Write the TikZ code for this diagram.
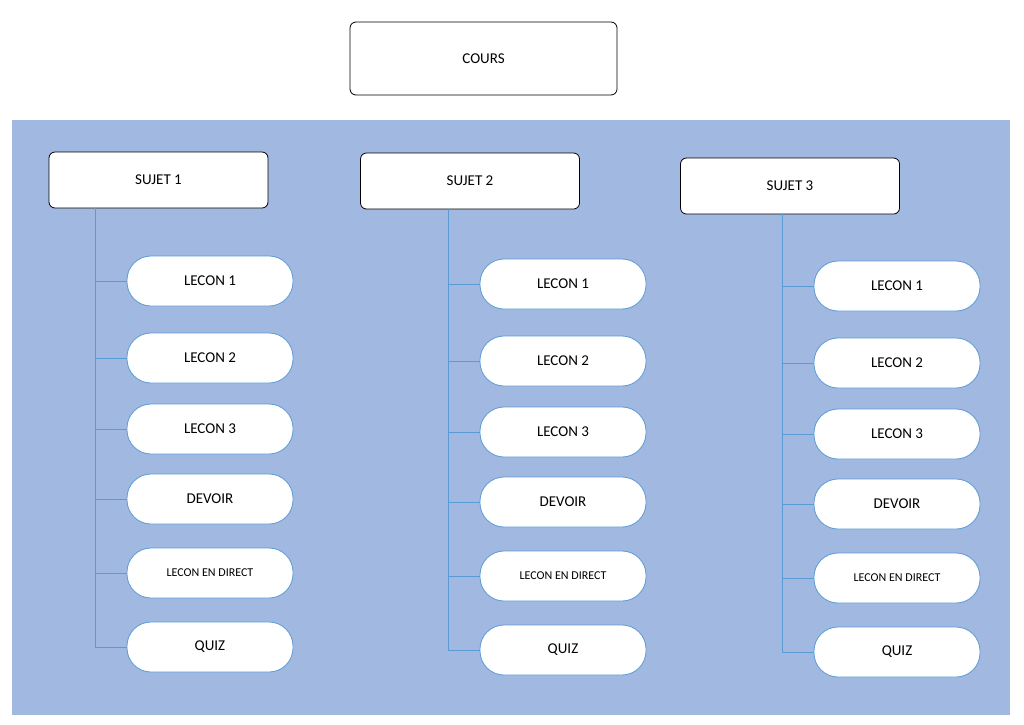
\documentclass[tikz,border=0pt]{standalone}
\usepackage{fontspec}
\setmainfont{Carlito}
\usetikzlibrary{positioning}
\definecolor{fond}{HTML}{A1B8E1}
\definecolor{trait}{HTML}{5B9BD5}
\tikzset{
  boite/.style={draw=black,thick,fill=white,rounded corners=6pt,font=\fontsize{15}{17}\selectfont},
  pilule/.style={draw=trait,thick,fill=white,rounded corners=24pt,minimum width=166pt,minimum height=50pt,font=\fontsize{15}{17}\selectfont},
  lien/.style={draw=trait,thick}
}
\begin{document}
\begin{tikzpicture}[x=1pt,y=-1pt]
\useasboundingbox (0,0) rectangle (1024,724);
\fill[fond] (12,120) rectangle (1010,715);
\node[boite,minimum width=267pt,minimum height=73pt] (cours) at (483.5,58.5) {COURS};
% sujets
\foreach \s/\x/\y/\tx/\py in {1/158.5/180/95/281, 2/470/181/448/284, 3/790/186/782/286}{
  \node[boite,minimum width=219pt,minimum height=56pt] (sujet\s) at (\x,\y) {SUJET \s};
  \coordinate (haut\s) at (\tx,\y+28);
  \foreach \t [count=\i] in {LECON 1,LECON 2,LECON 3,DEVOIR,{\fontsize{12}{14}\selectfont LECON EN DIRECT},QUIZ}{
    \pgfmathsetmacro{\yy}{\py+(\i==2)*77+(\i==3)*148+(\i==4)*218+(\i==5)*292+(\i==6)*366}
    \node[pilule] (l\s\i) at (\tx+115,\yy) {\t};
    \draw[lien] (l\s\i.west) -- (\tx,\yy);
  }
  \draw[lien] (haut\s) -- (\tx,\py+366);
}
\end{tikzpicture}
\end{document}
